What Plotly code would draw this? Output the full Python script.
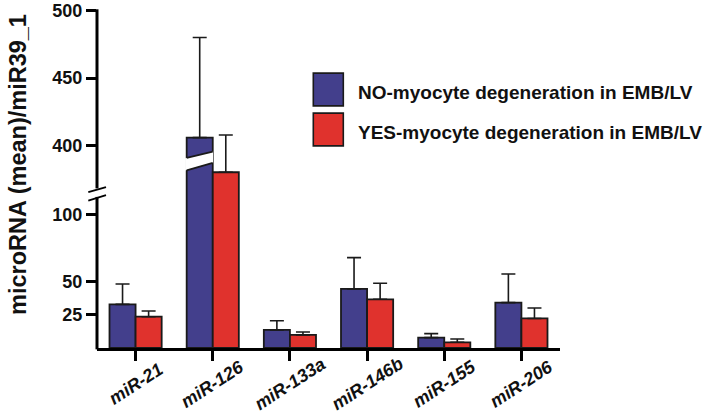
import plotly.graph_objects as go

# ---------------- data ----------------
categories = ["miR-21", "miR-126", "miR-133a", "miR-146b", "miR-155", "miR-206"]
no_mean = [32.8, 405.9, 13.6, 44.4, 7.8, 34.1]
no_upper = [48.1, 480.0, 20.5, 67.9, 10.8, 55.6]
yes_mean = [23.5, 380.3, 9.8, 36.6, 4.3, 22.2]
yes_upper = [27.8, 407.9, 12.0, 48.6, 6.8, 30.1]
series_names = ["NO-myocyte degeneration in EMB/LV", "YES-myocyte degeneration in EMB/LV"]
lower_ticks = [25, 50, 100]
upper_ticks = [400, 450, 500]
y_title = "microRNA (mean)/miR39_1"

# ---------------- style ----------------
BLUE = "#433f8c"
RED = "#e0322d"
EDGE = "#1a1a1a"
FONT = "Liberation Sans, Arial, sans-serif"
W, H = 709, 411
PLOT_L_REF, PLOT_R_REF = 97, 560  # plot edges in window pixels
PLOT_T_REF, PLOT_B_REF = 10.2, 348
L = PLOT_L_REF
R = W - PLOT_R_REF
T = PLOT_T_REF
B = H - PLOT_B_REF
PW = PLOT_R_REF - PLOT_L_REF
PH = PLOT_B_REF - PLOT_T_REF
SPLIT_PX = 193            # row where the lower and upper panels meet
LOWER_RANGE = [0, 116.5]
UPPER_RANGE = [365, 500.4]
BARGAP = 0.324


def px_x(px):
    return (px - PLOT_L_REF) / PW


def px_y(py):
    return (PLOT_B_REF - py) / PH


split = px_y(SPLIT_PX)
xpos = list(range(len(categories)))
no_err = [u - m for u, m in zip(no_upper, no_mean)]
yes_err = [u - m for u, m in zip(yes_upper, yes_mean)]

fig = go.Figure()
for yax in ["y", "y2"]:
    for name, vals, errs, col, grp in [
        (series_names[0], no_mean, no_err, BLUE, "no"),
        (series_names[1], yes_mean, yes_err, RED, "yes"),
    ]:
        fig.add_trace(go.Bar(
            x=xpos, y=vals, name=name, yaxis=yax, offsetgroup=grp,
            marker=dict(color=col, line=dict(color=EDGE, width=1.8)),
            error_y=dict(type="data", array=errs, arrayminus=[0] * len(errs),
                         symmetric=False, color=EDGE, thickness=1.6, width=7),
            showlegend=False,
        ))

axis_common = dict(showgrid=False, zeroline=False, showline=False, automargin=False,
                   ticks="outside", ticklen=10, tickwidth=2.5, tickcolor="black",
                   tickfont=dict(family=FONT, size=18, color="#111", weight="bold"))

fig.update_layout(
    width=W, height=H, margin=dict(l=L, r=R, t=T, b=B, pad=0), autosize=False,
    plot_bgcolor="white", paper_bgcolor="white",
    barmode="group", bargap=BARGAP, bargroupgap=0,
    xaxis=dict(range=[-0.5, len(categories) - 0.5], tickvals=xpos, automargin=False,
               showticklabels=False, showgrid=False, zeroline=False,
               showline=True, linewidth=3, linecolor="black",
               ticks="outside", ticklen=10, tickwidth=2.5, tickcolor="black"),
    yaxis=dict(domain=[0, split], range=LOWER_RANGE, tickvals=lower_ticks, **axis_common),
    yaxis2=dict(domain=[split, 1], range=UPPER_RANGE, tickvals=upper_ticks,
                anchor="x", **axis_common),
)

shapes = []
# broken y-axis line
shapes.append(dict(type="line", xref="paper", yref="paper", x0=0, x1=0,
                   y0=-0.004, y1=px_y(197), line=dict(color="black", width=3)))
shapes.append(dict(type="line", xref="paper", yref="paper", x0=0, x1=0,
                   y0=px_y(188.5), y1=px_y(9.5), line=dict(color="black", width=3)))
for y_left, y_right in [(192.3, 187.3), (200.7, 195.3)]:
    shapes.append(dict(type="line", xref="paper", yref="paper",
                       x0=px_x(88.3), x1=px_x(106), y0=px_y(y_left), y1=px_y(y_right),
                       line=dict(color="black", width=1.8)))

# break drawn across the tall NO bar of miR-126
bw = (1 - BARGAP) / 2
ib = categories.index("miR-126")
xl, xr = ib - bw, ib
lo_l, lo_r, up_l, up_r = 381.7, 387.2, 390.9, 395.6
shapes.append(dict(type="path", xref="x", yref="y2",
                   path=f"M {xl-0.02},{lo_l-0.2} L {xr+0.004},{lo_r+0.1} L {xr+0.004},{up_r} L {xl-0.02},{up_l-0.2} Z",
                   fillcolor="white", line=dict(width=0)))
shapes.append(dict(type="line", xref="x", yref="y2", x0=xl, x1=xr, y0=lo_l, y1=lo_r,
                   line=dict(color=EDGE, width=1.8)))
shapes.append(dict(type="line", xref="x", yref="y2", x0=xl, x1=xr, y0=up_l, y1=up_r,
                   line=dict(color=EDGE, width=1.8)))

# legend (drawn)
annotations = []
for i, (name, col) in enumerate(zip(series_names, [BLUE, RED])):
    top = 73.3 + i * 40
    shapes.append(dict(type="rect", xref="paper", yref="paper",
                       x0=px_x(313.3), x1=px_x(343.3), y0=px_y(top + 32.7), y1=px_y(top),
                       fillcolor=col, line=dict(color=EDGE, width=1.6)))
    annotations.append(dict(xref="paper", yref="paper", x=px_x(356), y=px_y(top + 19.3),
                            xanchor="left", yanchor="middle", showarrow=False, text=name,
                            font=dict(family=FONT, size=19, color="#111", weight="bold")))

# category labels
for xi, cat in zip(xpos, categories):
    annotations.append(dict(xref="x", yref="paper", x=xi, y=px_y(384),
                            xanchor="center", yanchor="middle", showarrow=False,
                            text=cat, textangle=-33,
                            font=dict(family=FONT, size=18, color="#111",
                                      weight="bold", style="italic")))

# y title
annotations.append(dict(xref="paper", yref="paper", x=px_x(18), y=px_y(165),
                        xanchor="center", yanchor="middle", showarrow=False,
                        text=y_title, textangle=-90,
                        font=dict(family=FONT, size=23.5, color="#111", weight="bold")))

fig.update_layout(shapes=shapes, annotations=annotations)
fig.write_html("out.html", config={"displayModeBar": False},
               post_script="document.body.style.margin='0';")
